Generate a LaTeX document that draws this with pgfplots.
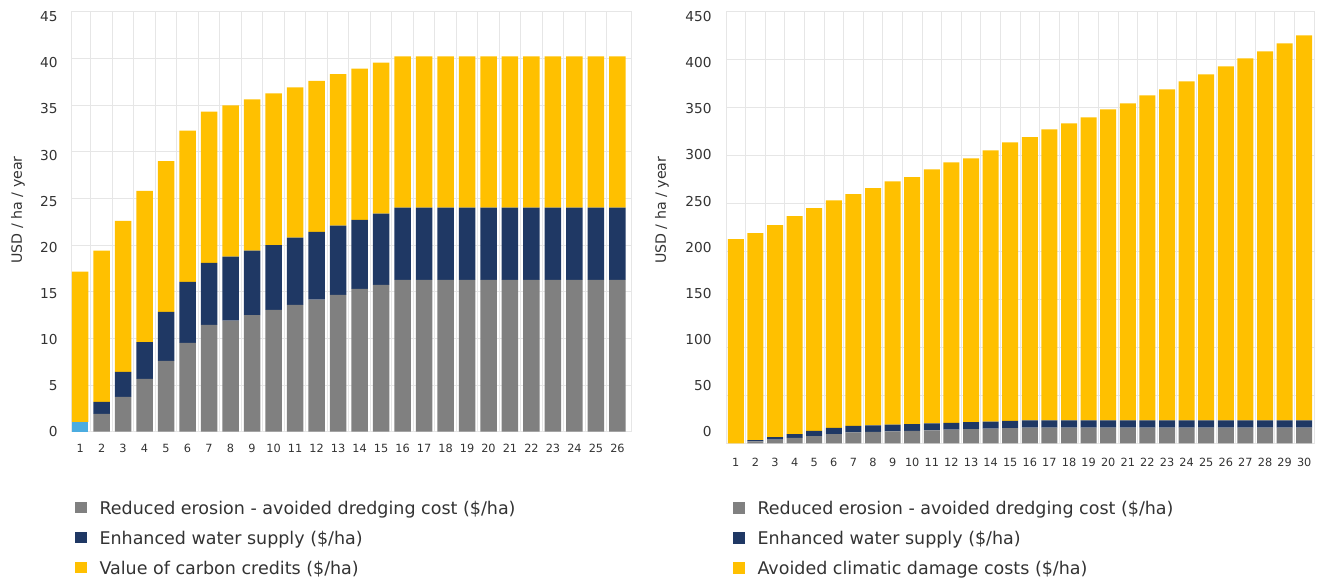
\documentclass[border=0pt]{standalone}
\usepackage{fontspec}
\setmainfont{DejaVu Sans}
\usepackage{pgfplots}
\usepackage{pgfplotstable}
\pgfplotsset{compat=1.18}
\definecolor{cgray}{HTML}{808080}
\definecolor{cnavy}{HTML}{1F3864}
\definecolor{cyel}{HTML}{FFC000}
\definecolor{cblue}{HTML}{4BACE0}
\definecolor{gridc}{HTML}{E6E6E6}
\definecolor{txt}{HTML}{333333}

\pgfplotstableread{
x blue gray navy yel
1 1.04 0 0 16.1
2 0 1.90 1.29 16.2
3 0 3.72 2.68 16.2
4 0 5.65 3.95 16.2
5 0 7.59 5.26 16.15
6 0 9.52 6.54 16.19
7 0 11.45 6.65 16.2
8 0 11.90 6.85 16.2
9 0 12.50 6.90 16.2
10 0 13.05 6.95 16.25
11 0 13.60 7.20 16.1
12 0 14.14 7.26 16.2
13 0 14.67 7.40 16.23
14 0 15.30 7.40 16.2
15 0 15.74 7.62 16.19
16 0 16.28 7.72 16.2
17 0 16.28 7.72 16.2
18 0 16.28 7.72 16.2
19 0 16.28 7.72 16.2
20 0 16.28 7.72 16.2
21 0 16.28 7.72 16.2
22 0 16.28 7.72 16.2
23 0 16.28 7.72 16.2
24 0 16.28 7.72 16.2
25 0 16.28 7.72 16.2
26 0 16.28 7.72 16.2
}\leftdata

\pgfplotstableread{
x gray navy yel
1 0 0 212.8
2 1.90 1.29 215.9
3 3.72 2.68 221.0
4 5.65 3.95 227.2
5 7.59 5.26 232.3
6 9.52 6.54 237.3
7 11.45 6.65 241.6
8 11.90 6.85 247.2
9 12.50 6.90 253.8
10 13.05 6.95 257.4
11 13.60 7.20 264.9
12 14.14 7.26 271.6
13 14.67 7.40 275.1
14 15.30 7.40 282.8
15 15.74 7.62 290.5
16 16.28 7.72 295.1
17 16.28 7.72 303.4
18 16.28 7.72 309.6
19 16.28 7.72 315.9
20 16.28 7.72 324.2
21 16.28 7.72 330.5
22 16.28 7.72 338.8
23 16.28 7.72 345.1
24 16.28 7.72 353.4
25 16.28 7.72 360.7
26 16.28 7.72 369.0
27 16.28 7.72 377.4
28 16.28 7.72 384.6
29 16.28 7.72 393.0
30 16.28 7.72 401.3
}\rightdata

\pgfplotsset{
  common/.style={
    scale only axis, ybar stacked, ymin=0,
    axis line style={draw=gridc, line width=1pt},
    grid style={draw=gridc, line width=1pt},
    ymajorgrids, xminorgrids,
    major tick length=0pt, minor tick length=0pt,
    tick style={draw=none},
    xtick=data,
    /pgf/number format/assume math mode=true,
    xticklabel style={font=\fontsize{11.3}{13}\selectfont, text=txt, anchor=center, inner sep=0pt, text height=8.2pt, text depth=0pt},
    yticklabel style={font=\fontsize{13.7}{16}\selectfont, text=txt, anchor=east, inner sep=0pt, xshift=-14.2pt},
    ylabel style={font=\fontsize{14.2}{16}\selectfont, text=txt, anchor=center},
    legend cell align=left,
    legend style={draw=none, fill=none, inner sep=0pt, outer sep=0pt,
      font=\fontsize{17.5}{21}\selectfont, text=txt, anchor=north west,
      row sep=13pt, column sep=13pt,
      nodes={inner sep=0pt, text height=13pt, text depth=4pt}},
    legend image code/.code={\fill[##1] (0pt,-3.85pt) rectangle (11.5pt,7.65pt);},
  }
}

\begin{document}
\begin{tikzpicture}
\path[use as bounding box] (0pt,0pt) rectangle (1317pt,580pt);

\begin{axis}[common,
  at={(72pt,148.3pt)}, anchor=south west,
  width=559pt, height=420pt,
  xmin=0.623, xmax=26.63, ymax=45, ytick={0,5,...,45},
  bar width=16.5pt,
  minor xtick={1.5,2.5,...,25.5},
  xticklabel style={yshift=-16.3pt},
  yticklabel={\pgfmathsetmacro\rs{(45-\tick)/5*0.53-10}\smash{\raisebox{\rs pt}{\pgfmathprintnumber{\tick}}}},
  ylabel={USD / ha / year},
  ylabel style={at={(axis description cs:-0.0966,0.528)}},
  legend style={at={(axis description cs:0.0054,-0.1653)}},
]
\addplot[fill=cblue, draw=none, forget plot] table[x=x, y=blue] {\leftdata};
\addplot[fill=cgray, draw=none] table[x=x, y=gray] {\leftdata};
\addlegendentry{Reduced erosion - avoided dredging cost (\$/ha)}
\addplot[fill=cnavy, draw=none] table[x=x, y=navy] {\leftdata};
\addlegendentry{Enhanced water supply (\$/ha)}
\addplot[fill=cyel, draw=none] table[x=x, y=yel] {\leftdata};
\addlegendentry{Value of carbon credits (\$/ha)}
\end{axis}

\begin{axis}[common,
  at={(726pt,136.7pt)}, anchor=south west,
  width=588pt, height=431.6pt,
  xmin=0.5, xmax=30.5, ymax=450, ytick={0,50,...,450},
  bar width=16pt,
  minor xtick={1.5,2.5,...,29.5},
  xticklabel style={yshift=-19.5pt},
  yticklabel={\pgfmathsetmacro\rs{(450-\tick)/50*1.86-10}\smash{\raisebox{\rs pt}{\pgfmathprintnumber{\tick}}}},
  ylabel={USD / ha / year},
  ylabel style={at={(axis description cs:-0.109,0.54)}},
  legend style={at={(axis description cs:0.0119,-0.1341)}},
]
\addplot[fill=cgray, draw=none] table[x=x, y=gray] {\rightdata};
\addlegendentry{Reduced erosion - avoided dredging cost (\$/ha)}
\addplot[fill=cnavy, draw=none] table[x=x, y=navy] {\rightdata};
\addlegendentry{Enhanced water supply (\$/ha)}
\addplot[fill=cyel, draw=none] table[x=x, y=yel] {\rightdata};
\addlegendentry{Avoided climatic damage costs (\$/ha)}
\end{axis}
\end{tikzpicture}
\end{document}
